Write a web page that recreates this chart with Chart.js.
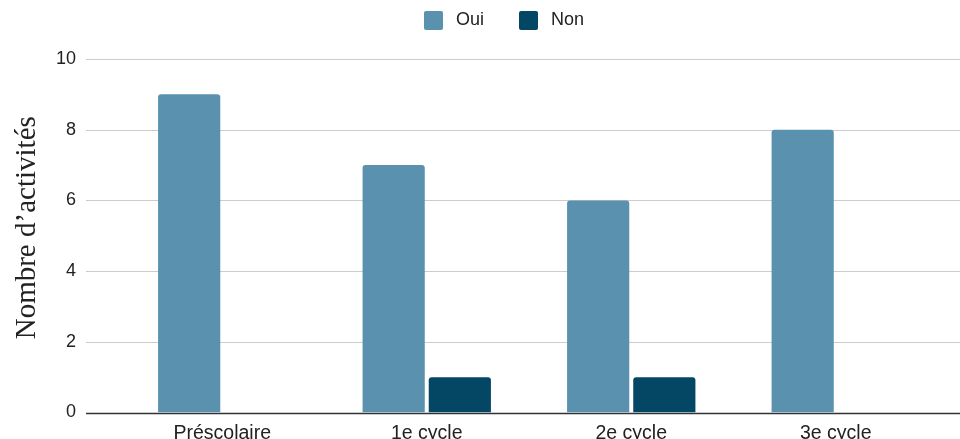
<!DOCTYPE html>
<html><head><meta charset="utf-8">
<script src="https://cdn.jsdelivr.net/npm/chart.js@4"></script>
<style>html,body{margin:0;padding:0;background:#fff}</style>
</head><body><canvas id="c" width="960" height="439"></canvas>
<script>
const categories = ['Préscolaire', '1e cycle', '2e cycle', '3e cycle'];
const seriesNames = ['Oui', 'Non'];
const ouiValues = [9, 7, 6, 8];
const nonValues = [0, 1, 1, 0];
const yTicks = [0, 2, 4, 6, 8, 10];
const yTitle = 'Nombre d’activités';
const colors = ['#5a91ae', '#044764'];

const FONT = "'Liberation Sans', Arial, sans-serif";

function legendSwatch(color) {
  const c = document.createElement('canvas');
  c.width = 23; c.height = 19;
  const g = c.getContext('2d');
  g.fillStyle = color;
  g.beginPath();
  if (g.roundRect) g.roundRect(0, 0, 19, 19, 2); else g.rect(0, 0, 19, 19);
  g.fill();
  return c;
}

const gridPlugin = {
  id: 'fullGrid',
  beforeDatasetsDraw(chart) {
    const ctx = chart.ctx, y = chart.scales.y;
    ctx.save();
    y.ticks.forEach(t => {
      const py = Math.round(y.getPixelForValue(t.value)) + 0.5;
      ctx.beginPath();
      ctx.strokeStyle = t.value === 0 ? '#333333' : '#cccccc';
      ctx.lineWidth = t.value === 0 ? 1.3 : 1;
      ctx.moveTo(86, py);
      ctx.lineTo(960, py);
      ctx.stroke();
    });
    ctx.restore();
  }
};
const layoutFix = {
  id: 'layoutFix',
  beforeLayout(chart) {
    const L = chart.legend;
    if (L && !L._patched) {
      const orig = L.fit;
      L.fit = function () { orig.call(this); this.height = 59; };
      L._patched = true;
    }
    const Y = chart.scales.y;
    if (Y && !Y._patched) {
      const od = Y.drawTitle;
      Y.drawTitle = function () { const b = this.bottom; this.bottom -= 16; od.apply(this, arguments); this.bottom = b; };
      Y._patched = true;
    }
  },
  afterLayout(chart) {
    const L = chart.legend;
    if (L) { L.top -= 23.5; L.bottom -= 23.5; L.left += 34; L.right += 34; }
    const Y = chart.scales.y;
    if (Y && !Y._patched) {
      const od = Y.drawTitle;
      Y.drawTitle = function () { const b = this.bottom; this.bottom -= 16; od.apply(this, arguments); this.bottom = b; };
      Y._patched = true;
    }
  }
};

new Chart(document.getElementById('c'), {
  type: 'bar',
  data: {
    labels: categories,
    datasets: [
      { label: seriesNames[0], data: ouiValues, backgroundColor: colors[0], pointStyle: legendSwatch(colors[0]), borderRadius: 3, borderSkipped: 'start' },
      { label: seriesNames[1], data: nonValues, backgroundColor: colors[1], pointStyle: legendSwatch(colors[1]), borderRadius: 3, borderSkipped: 'start' }
    ]
  },
  plugins: [gridPlugin, layoutFix],
  options: {
    responsive: false,
    animation: false,
    devicePixelRatio: 1,
    datasets: { bar: { categoryPercentage: 0.647, barPercentage: 0.94 } },
    layout: { padding: { left: 2, right: 22, top: 0, bottom: 0 } },
    plugins: {
      tooltip: { enabled: false },
      legend: {
        position: 'top',
        labels: {
          font: { family: FONT, size: 18 },
          color: '#222222',
          usePointStyle: true,
          pointStyleWidth: 23,
          boxHeight: 19,
          padding: 35
        }
      }
    },
    scales: {
      x: {
        grid: { display: false, drawTicks: false },
        border: { display: false },
        ticks: { font: { family: FONT, size: 19.5 }, color: '#222222', padding: 9, maxRotation: 0 },
        afterFit(s) { s.height = 26.5; }
      },
      y: {
        min: 0, max: 10,
        grid: { display: false, drawTicks: false },
        border: { display: false },
        afterBuildTicks(s) { s.ticks = yTicks.map(v => ({ value: v })); },
        ticks: { font: { family: FONT, size: 18 }, color: '#222222', padding: 44 },
        title: { display: true, text: yTitle, font: { family: "'Liberation Serif', 'Times New Roman', serif", size: 29 }, color: '#222222', padding: { top: 8, bottom: 0 } },
        afterFit(s) { s.width = 118; s.paddingTop = 10; s.paddingBottom = 10; }
      }
    }
  }
});
</script>
</body></html>
